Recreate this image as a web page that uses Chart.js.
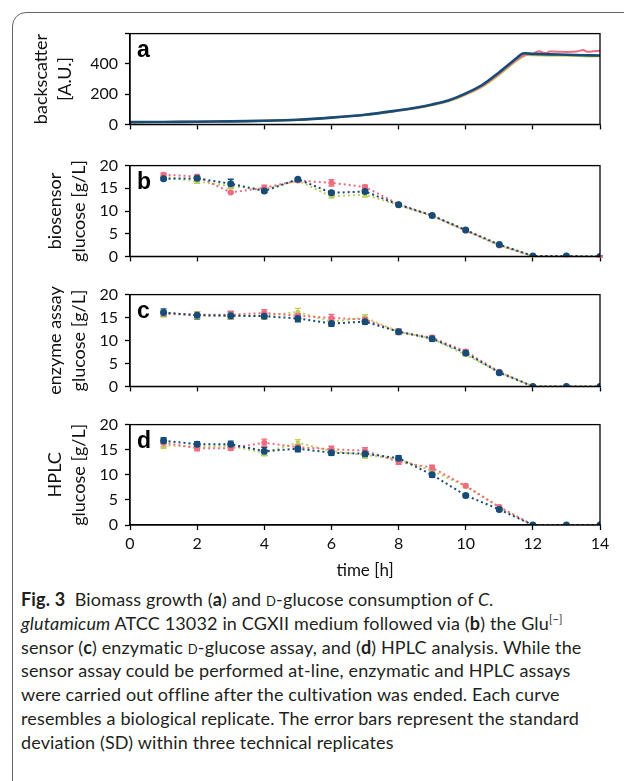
<!DOCTYPE html>
<html>
<head>
<meta charset="utf-8">
<script src="https://cdn.jsdelivr.net/npm/chart.js@4.4.0/dist/chart.umd.min.js"></script>
<style>
  body { margin: 0; background: #fff; width: 624px; height: 781px; overflow: hidden; position: relative; font-family: Lato, sans-serif; }
  #frame { position: absolute; left: 12px; top: 12px; width: 640px; height: 790px; border: 1.5px solid #666; border-radius: 14px; box-sizing: border-box; }
  .panel { position: absolute; left: 0; width: 624px; }
  #caption { position: absolute; left: 21px; top: 588px; font-size: 18px; letter-spacing: 0.15px; line-height: 23.8px; white-space: nowrap; color: #231f20; }
  .sc { font-variant: small-caps; }
  sup { font-size: 11px; line-height: 0; }
</style>
</head>
<body>
<div id="frame"></div>
<canvas id="chartA" class="panel" style="top:17px;height:124px" width="624" height="124"></canvas>
<canvas id="chartB" class="panel" style="top:149px;height:124px" width="624" height="124"></canvas>
<canvas id="chartC" class="panel" style="top:278px;height:125px" width="624" height="125"></canvas>
<canvas id="chartD" class="panel" style="top:408px;height:177px" width="624" height="177"></canvas>
<div id="caption"><b>Fig. 3</b>&nbsp; Biomass growth (<b>a</b>) and <span class="sc">d</span>-glucose consumption of <i>C.</i><br><i>glutamicum</i> ATCC 13032 in CGXII medium followed via (<b>b</b>) the Glu<sup>[−]</sup><br>sensor (<b>c</b>) enzymatic <span class="sc">d</span>-glucose assay, and (<b>d</b>) HPLC analysis. While the<br>sensor assay could be performed at-line, enzymatic and HPLC assays<br>were carried out offline after the cultivation was ended. Each curve<br>resembles a biological replicate. The error bars represent the standard<br>deviation (SD) within three technical replicates</div>
<script>
// colours of the three biological replicates
const BLUE = '#174b78';
const PINK = '#ef6b80';
const GREEN = '#bcd25c';

// panel a: backscatter (continuous)
const bsTimeBlue = [0, 1, 2, 3, 4, 5, 6, 7, 8, 8.5, 9, 9.5, 10, 10.5, 11, 11.5, 11.7, 12, 12.5, 13, 13.5, 14];
const bsBlue = [15, 16, 18, 20, 24, 31, 45, 64, 93, 110, 132, 160, 205, 262, 345, 435, 468, 466, 463, 460, 457, 455];
const bsTimePink = [0, 1, 2, 3, 4, 5, 6, 7, 8, 8.5, 9, 9.5, 10, 10.5, 11, 11.5, 11.8, 12, 12.1, 12.2, 12.3, 12.4, 12.5, 12.8, 13, 13.3, 13.5, 13.6, 13.8, 14];
const bsPink = [15, 16, 18, 20, 24, 31, 45, 63, 92, 108, 130, 157, 200, 255, 335, 425, 462, 465, 478, 484, 474, 472, 481, 480, 479, 481, 492, 481, 483, 486];
const bsTimeGreen = [0, 1, 2, 3, 4, 5, 6, 7, 8, 8.5, 9, 9.5, 10, 10.5, 11, 11.5, 11.8, 12, 12.5, 13, 13.5, 13.8, 14];
const bsGreen = [15, 16, 18, 20, 23, 30, 44, 62, 90, 106, 127, 153, 196, 250, 328, 418, 458, 457, 455, 454, 451, 449, 453];

// sampling times for b-d
const hours = [1, 2, 3, 4, 5, 6, 7, 8, 9, 10, 11, 12, 13, 14];

// panel b: biosensor glucose [g/L]
const bioBlue = [17.1, 17.2, 16.0, 14.4, 17.0, 14.0, 14.3, 11.4, 9.0, 5.8, 2.6, 0.1, 0.1, 0];
const bioPink = [18.0, 17.6, 14.1, 15.1, 16.7, 16.2, 15.3, 11.5, 9.0, 5.7, 2.4, 0.1, 0, 0];
const bioGreen = [17.6, 16.5, 15.5, 14.8, 16.7, 13.2, 13.6, 11.3, 8.9, 5.7, 2.5, 0, 0, 0];
const bioBlueSd = [0.3, 0.4, 1.0, 0.3, 0.3, 0.4, 0.3, 0.2, 0.2, 0.2, 0.2, 0.1, 0.1, 0.1];
const bioPinkSd = [0.3, 0.4, 0.2, 0.6, 0.3, 0.7, 0.4, 0.2, 0.2, 0.2, 0.2, 0.1, 0.1, 0.1];
const bioGreenSd = [0.3, 0.4, 0.6, 0.4, 0.3, 0.3, 0.5, 0.2, 0.2, 0.2, 0.2, 0.1, 0, 0];

// panel c: enzyme assay glucose [g/L]
const enzBlue = [16.1, 15.5, 15.4, 15.3, 14.8, 13.7, 14.1, 11.9, 10.4, 7.3, 3.0, 0, 0, 0];
const enzPink = [15.9, 15.6, 15.6, 16.0, 15.4, 14.9, 14.6, 11.9, 10.6, 7.6, 3.2, 0, 0, 0];
const enzGreen = [15.8, 15.5, 15.3, 15.4, 16.2, 14.1, 15.0, 11.9, 10.4, 6.9, 3.1, 0, 0, 0];
const enzBlueSd = [0.8, 0.8, 0.8, 0.6, 0.7, 0.6, 0.5, 0.5, 0.6, 0.4, 0.3, 0, 0, 0];
const enzPinkSd = [0.6, 0.7, 0.8, 0.7, 0.5, 0.8, 0.5, 0.6, 0.5, 0.4, 0.3, 0, 0, 0];
const enzGreenSd = [0.7, 0.7, 0.6, 0.8, 0.8, 0.5, 0.6, 0.4, 0.4, 0.3, 0.3, 0, 0, 0];

// panel d: HPLC glucose [g/L]
const hplcBlue = [16.8, 16.1, 16.1, 14.7, 15.2, 14.4, 14.2, 13.3, 10.0, 5.9, 3.1, 0, 0, 0];
const hplcPink = [16.4, 15.3, 15.3, 16.4, 15.5, 15.1, 14.8, 12.6, 11.4, 7.8, 3.6, 0, 0, 0];
const hplcGreen = [15.9, 15.6, 15.75, 14.4, 16.4, 14.7, 14.0, 13.1, 10.8, 7.7, 3.6, 0, 0, 0];
const hplcBlueSd = [0.6, 0.5, 0.6, 0.8, 0.6, 0.5, 0.6, 0.5, 0.5, 0.3, 0.3, 0, 0, 0];
const hplcPinkSd = [0.8, 0.5, 0.4, 0.7, 0.5, 0.6, 0.6, 0.5, 0.5, 0.3, 0.3, 0, 0, 0];
const hplcGreenSd = [0.6, 0.5, 0.5, 0.6, 0.6, 0.5, 0.7, 0.4, 0.4, 0.3, 0.3, 0, 0, 0];

const xTicks = [0, 2, 4, 6, 8, 10, 12, 14];

Chart.defaults.font.family = 'Lato, sans-serif';
Chart.defaults.color = '#111';

const pts = (xs, ys) => xs.map((x, i) => ({ x: x, y: ys[i] }));

// frame on top/right + panel letter
const panelDeco = {
  id: 'panelDeco',
  afterDraw(chart) {
    const { ctx, chartArea: a } = chart;
    ctx.save();
    ctx.strokeStyle = '#000';
    ctx.lineWidth = 1.3;
    ctx.strokeRect(a.left, a.top, a.right - a.left, a.bottom - a.top);
    ctx.fillStyle = '#000';
    ctx.font = 'bold 23px "Liberation Sans", Arial, sans-serif';
    ctx.textBaseline = 'alphabetic';
    ctx.fillText(chart.options.plugins.panelDeco.letter, a.left + 7, a.top + 23);
    ctx.restore();
  }
};

const errorBars = {
  id: 'errorBars',
  beforeDatasetsDraw(chart) {
    const { ctx, scales: { x, y } } = chart;
    ctx.save();
    chart.data.datasets.forEach(ds => {
      if (!ds.errors) return;
      ctx.strokeStyle = ds.borderColor;
      ctx.lineWidth = 1.4;
      ds.data.forEach((p, i) => {
        const e = ds.errors[i];
        if (!e) return;
        const px = x.getPixelForValue(p.x);
        const top = y.getPixelForValue(p.y + e);
        const bot = y.getPixelForValue(p.y - e);
        ctx.beginPath();
        ctx.moveTo(px, top); ctx.lineTo(px, bot);
        ctx.moveTo(px - 3, top); ctx.lineTo(px + 3, top);
        ctx.moveTo(px - 3, bot); ctx.lineTo(px + 3, bot);
        ctx.stroke();
      });
    });
    ctx.restore();
  }
};

const glucoseSet = (ys, sd, color, shape, r) => ({
  data: pts(hours, ys),
  errors: sd,
  borderColor: color,
  backgroundColor: color,
  borderWidth: 2,
  borderDash: [2, 3],
  pointStyle: shape,
  pointRadius: r,
  pointBorderWidth: 0,
  tension: 0
});

const makePanel = (id, letter, datasets, yOpts, titleLines, titlePad, showX) => {
  new Chart(document.getElementById(id), {
    type: 'line',
    data: { datasets: datasets },
    options: {
      responsive: false,
      animation: false,
      events: [],
      layout: { padding: { top: 10, right: 24, left: 0, bottom: 0 } },
      plugins: { legend: { display: false }, tooltip: { enabled: false }, panelDeco: { letter: letter } },
      scales: {
        x: {
          type: 'linear', min: 0, max: 14,
          afterBuildTicks: s => { s.ticks = xTicks.map(v => ({ value: v })); },
          afterFit: s => { s.height = showX ? 60 : 8; },
          border: { display: true, color: '#000', width: 1.3 },
          grid: { drawOnChartArea: false, drawTicks: true, tickLength: 5, color: '#000', tickWidth: 1.3 },
          ticks: { display: showX, padding: 4, font: { size: 16 }, maxRotation: 0 },
          title: { display: showX, text: 'time [h]', font: { size: 17 }, padding: { top: 2 } }
        },
        y: Object.assign({
          afterFit: s => { s.width = 130; },
          border: { display: true, color: '#000', width: 1.3 },
          grid: { drawOnChartArea: false, drawTicks: true, tickLength: 5, color: '#000', tickWidth: 1.3 },
          title: { display: true, text: titleLines, font: { size: 18, lineHeight: 1.33 }, padding: { top: titlePad } }
        }, yOpts)
      }
    },
    plugins: [errorBars, panelDeco]
  });
};

makePanel('chartA', 'a', [
  { data: pts(bsTimeBlue, bsBlue), borderColor: BLUE, borderWidth: 2.6, pointRadius: 0, tension: 0.3 },
  { data: pts(bsTimePink, bsPink), borderColor: PINK, borderWidth: 2, pointRadius: 0, tension: 0.2 },
  { data: pts(bsTimeGreen, bsGreen), borderColor: GREEN, borderWidth: 2.2, pointRadius: 0, tension: 0.3 }
], {
  min: 0, max: 600,
  ticks: { stepSize: 200, padding: 7, font: { size: 16 }, callback: v => v === 600 ? '' : v }
}, ['backscatter', '[A.U.]'], 29, false);

const glucoseAxis = { min: 0, max: 20, ticks: { stepSize: 5, padding: 7, font: { size: 16 } } };

makePanel('chartB', 'b', [
  glucoseSet(bioBlue, bioBlueSd, BLUE, 'circle', 3.5),
  glucoseSet(bioPink, bioPinkSd, PINK, 'circle', 3),
  glucoseSet(bioGreen, bioGreenSd, GREEN, 'rect', 3)
], glucoseAxis, ['biosensor', 'glucose [g/L]'], 43, false);

makePanel('chartC', 'c', [
  glucoseSet(enzBlue, enzBlueSd, BLUE, 'circle', 3.5),
  glucoseSet(enzPink, enzPinkSd, PINK, 'circle', 3),
  glucoseSet(enzGreen, enzGreenSd, GREEN, 'rect', 3)
], glucoseAxis, ['enzyme assay', 'glucose [g/L]'], 43, false);

makePanel('chartD', 'd', [
  glucoseSet(hplcBlue, hplcBlueSd, BLUE, 'circle', 3.5),
  glucoseSet(hplcPink, hplcPinkSd, PINK, 'circle', 3),
  glucoseSet(hplcGreen, hplcGreenSd, GREEN, 'rect', 3)
], glucoseAxis, ['HPLC', 'glucose [g/L]'], 43, true);
</script>
</body>
</html>
